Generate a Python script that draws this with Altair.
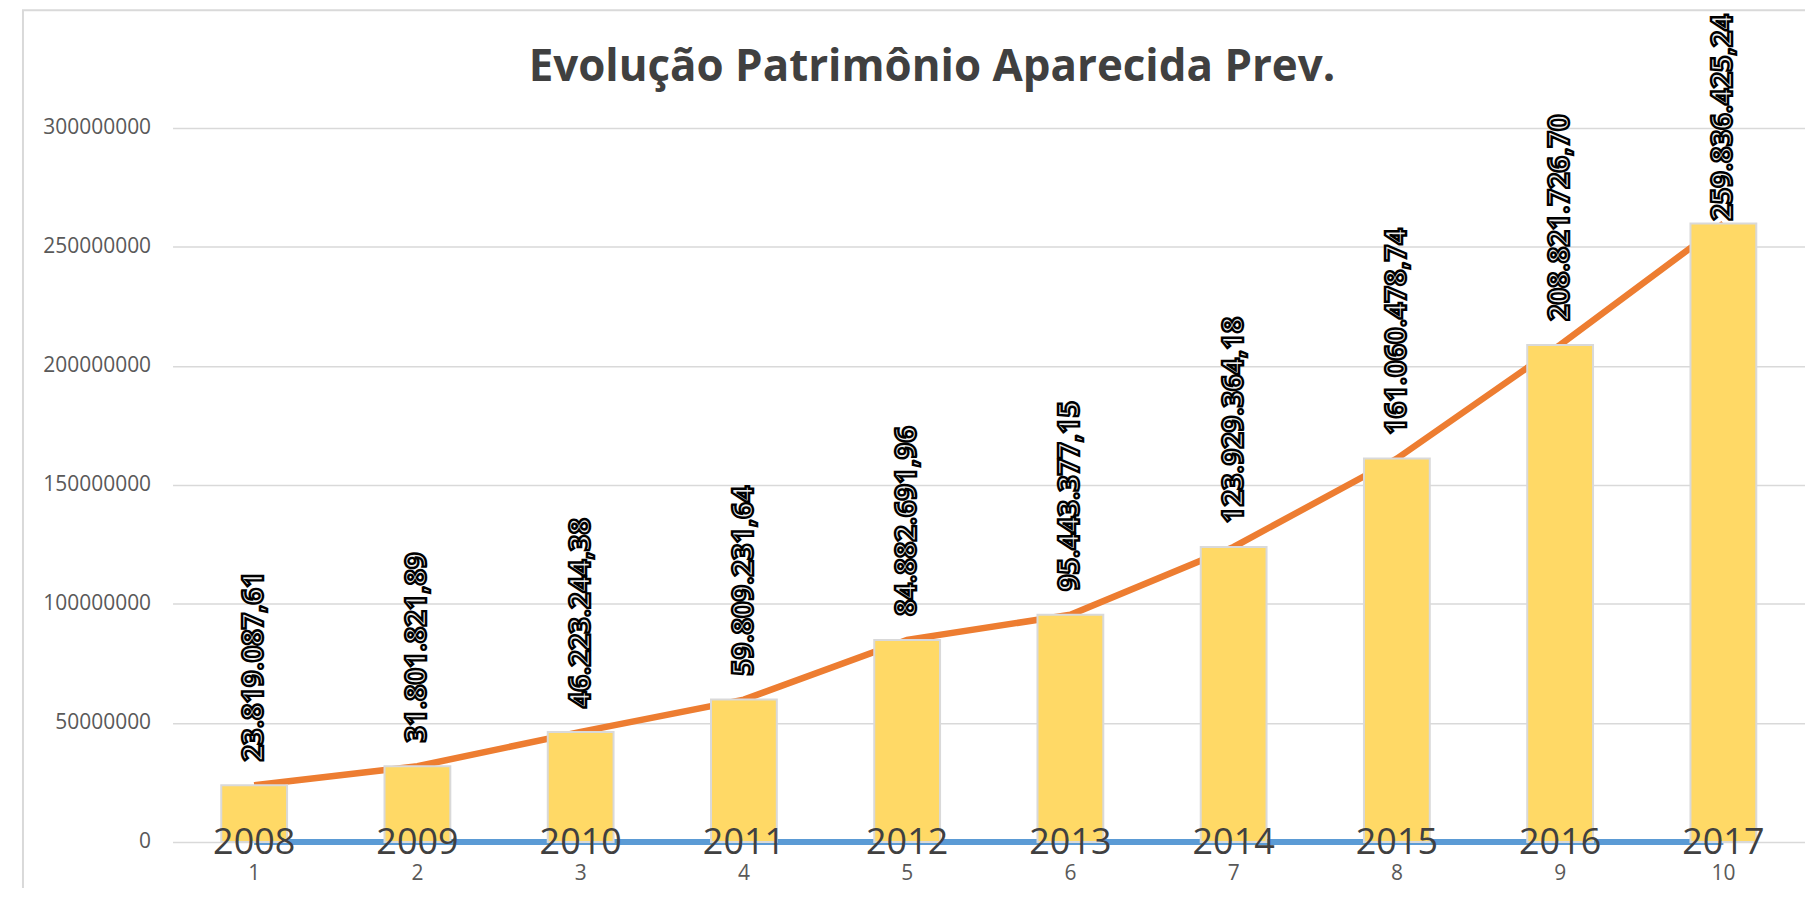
import altair as alt
import pandas as pd

indice = list(range(1, 11))
anos = [2008, 2009, 2010, 2011, 2012, 2013, 2014, 2015, 2016, 2017]
patrimonio = [23819087.61, 31801821.89, 46223244.38, 59809231.64, 84882691.96,
              95443377.15, 123929364.18, 161060478.74, 208821726.70, 259836425.24]
rotulos = ["23.819.087,61", "31.801.821,89", "46.223.244,38", "59.809.231,64",
           "84.882.691,96", "95.443.377,15", "123.929.364,18", "161.060.478,74",
           "208.821.726,70", "259.836.425,24"]
y_ticks = [0, 50000000, 100000000, 150000000, 200000000, 250000000, 300000000]
titulo = "Evolução Patrimônio Aparecida Prev."

df = pd.DataFrame({"idx": indice, "ano": anos, "valor": patrimonio, "rotulo": rotulos})

W, H = 1637, 716
FONT = "Open Sans"

xscale = alt.Scale(paddingInner=0, paddingOuter=0)
yscale = alt.Scale(domain=[0, 300000000], nice=False, zero=True)

xenc = alt.X("idx:O", title=None, scale=xscale,
             axis=alt.Axis(labelAngle=0, labelFontSize=21, labelColor="#595959",
                           labelPadding=21, ticks=False, domain=False, grid=False,
                           labelFont=FONT))
yenc = alt.Y("valor:Q", title=None, scale=yscale,
             axis=alt.Axis(values=y_ticks, format="d", labelFontSize=21,
                           labelColor="#595959", labelPadding=22, ticks=False,
                           domain=False, grid=True, gridColor="#D9D9D9",
                           gridWidth=1.5, labelFont=FONT))

base = alt.Chart(df)

frame = alt.Chart(pd.DataFrame({"t": [titulo]})).mark_rect(
    fillOpacity=0, stroke="#D9D9D9", strokeWidth=2).encode(
    x=alt.value(-150), x2=alt.value(W + 60),
    y=alt.value(-118), y2=alt.value(H + 300),
)

titulo_txt = alt.Chart(pd.DataFrame({"t": [titulo]})).mark_text(
    font=FONT, fontSize=44, fontWeight="bold", color="#404040",
    align="center", baseline="alphabetic").encode(
    x=alt.value(W / 2 - 57), y=alt.value(-47), text="t:N"
)

linha_laranja = base.mark_line(color="#ED7D31", strokeWidth=6.5).encode(
    x=xenc, y=yenc
)

linha_azul = base.mark_line(color="#5B9BD5", strokeWidth=6).encode(
    x=alt.X("idx:O", title=None), y=alt.Y("ano:Q", title=None, scale=yscale)
)

barras = base.mark_bar(size=66, color="#FFD966", stroke="#D9D9D9", strokeWidth=2).encode(
    x=alt.X("idx:O", title=None), y=alt.Y("valor:Q", title=None, scale=yscale)
)

anos_txt = base.mark_text(font=FONT, fontSize=36, color="#404040",
                          baseline="middle", dy=1).encode(
    x=alt.X("idx:O", title=None), y=alt.Y("ano:Q", title=None, scale=yscale),
    text=alt.Text("ano:N"),
)

valores_txt = base.transform_calculate(
    ancora="min(datum.valor + 10000000, 261000000)"
).mark_text(font=FONT, fontSize=29, fontWeight="bold", angle=270, align="left",
            baseline="middle", fill="#eeeeee", stroke="#000000", strokeWidth=2.4).encode(
    x=alt.X("idx:O", title=None), y=alt.Y("ancora:Q", title=None, scale=yscale),
    text=alt.Text("rotulo:N"),
)

chart = alt.layer(frame, linha_laranja, linha_azul, barras, anos_txt, valores_txt,
                  titulo_txt).properties(
    width=W, height=H,
    autosize=alt.AutoSizeParams(type="none"),
    padding={"left": 165, "top": 119, "right": 0, "bottom": 45},
).configure(background="white").configure_view(stroke=None)

chart.save("out.html", embed_options={"renderer": "svg", "actions": False})
